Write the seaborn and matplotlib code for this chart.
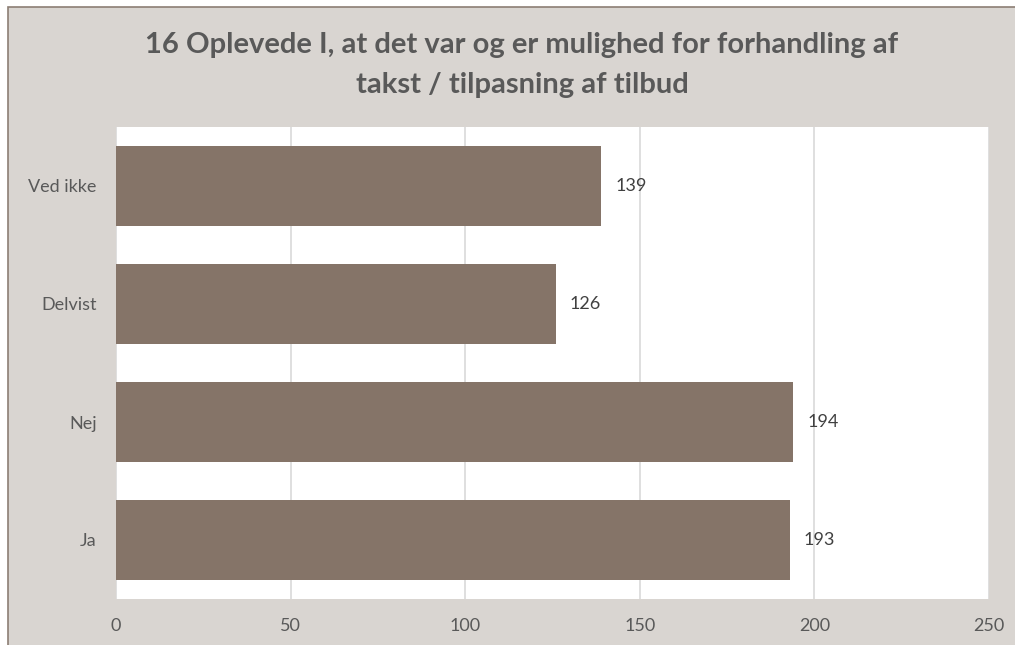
import matplotlib
matplotlib.use("Agg")
import matplotlib.pyplot as plt
import seaborn as sns
import pandas as pd
from matplotlib.patches import Rectangle

categories = ["Ved ikke", "Delvist", "Nej", "Ja"]
counts = [139, 126, 194, 193]
x_ticks = [0, 50, 100, 150, 200, 250]
title_lines = ["16 Oplevede I, at det var og er mulighed for forhandling af",
               "takst / tilpasning af tilbud"]

BG = "#D9D5D1"
BAR = "#857468"
TXT = "#595959"

sns.set_theme(style="white")
plt.rcParams["font.family"] = ["Lato", "DejaVu Sans"]

df = pd.DataFrame({"svar": categories, "antal": counts})

fig = plt.figure(figsize=(10.15, 6.45), dpi=100)
fig.patch.set_facecolor("white")
# chart area background with thin border (cropped at right/bottom)
fig.patches.append(Rectangle((8 / 1015, -0.05), 1.1, 1 - 7 / 645 + 0.05,
                             transform=fig.transFigure, facecolor=BG,
                             edgecolor="#8C7E74", linewidth=1.2, zorder=-5))

ax = fig.add_axes([116 / 1015, 1 - 599 / 645, 873 / 1015, 472 / 645])
ax.set_zorder(2)
ax.set_facecolor("white")
sns.barplot(data=df, x="antal", y="svar", orient="h", color=BAR,
            width=0.67, saturation=1, linewidth=0, ax=ax, zorder=3)

ax.set_xlim(0, 250)
ax.set_xticks(x_ticks)
ax.grid(axis="x", color="#D9D9D9", linewidth=1.2, zorder=0)
ax.grid(axis="y", visible=False)
for s in ax.spines.values():
    s.set_visible(False)
ax.set_xlabel("")
ax.set_ylabel("")
ax.tick_params(axis="both", length=0, labelsize=13, labelcolor=TXT)
ax.tick_params(axis="x", pad=14)
ax.tick_params(axis="y", pad=14)

for bar, v in zip(ax.patches, counts):
    ax.text(bar.get_width() + 4, bar.get_y() + bar.get_height() / 2, str(v),
            va="center", ha="left", fontsize=13, color="#404040")

fig.text(522 / 1015, 1 - 45 / 645, title_lines[0], ha="center", va="center",
         fontsize=21, fontweight="bold", color=TXT, zorder=3)
fig.text(522 / 1015, 1 - 85 / 645, title_lines[1], ha="center", va="center",
         fontsize=21, fontweight="bold", color=TXT, zorder=3)

fig.savefig("out.png", dpi=100, facecolor=fig.get_facecolor())
